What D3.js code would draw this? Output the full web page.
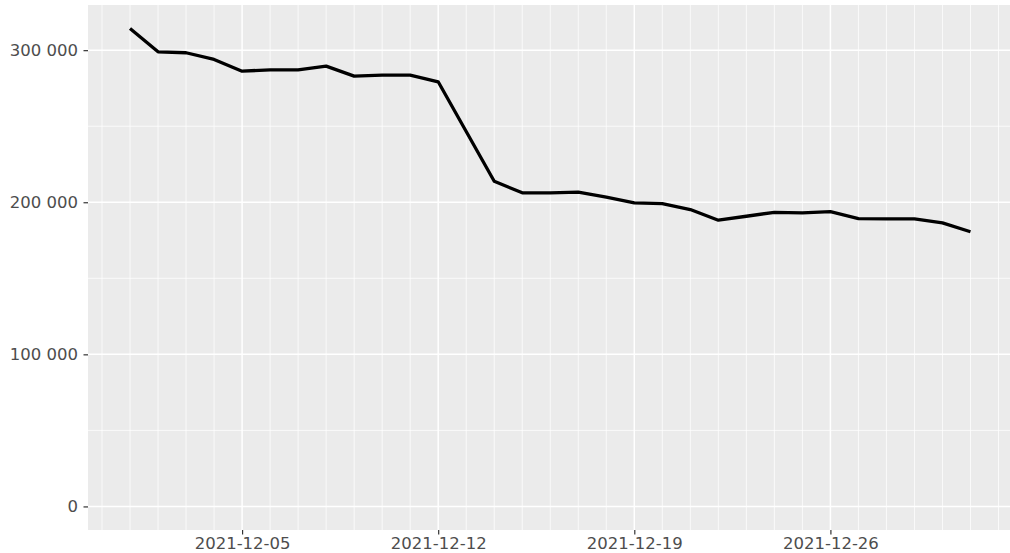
<!DOCTYPE html>
<html>
<head>
<meta charset="utf-8">
<script src="https://cdn.jsdelivr.net/npm/d3@7"></script>
<style>
  html, body { margin: 0; padding: 0; background: #fff; }
  svg { display: block; }
</style>
</head>
<body>
<svg id="chart" width="1010" height="553"></svg>
<script>
const dates = ["2021-12-01","2021-12-02","2021-12-03","2021-12-04","2021-12-05","2021-12-06","2021-12-07",
  "2021-12-08","2021-12-09","2021-12-10","2021-12-11","2021-12-12","2021-12-13","2021-12-14",
  "2021-12-15","2021-12-16","2021-12-17","2021-12-18","2021-12-19","2021-12-20","2021-12-21",
  "2021-12-22","2021-12-23","2021-12-24","2021-12-25","2021-12-26","2021-12-27","2021-12-28",
  "2021-12-29","2021-12-30","2021-12-31"];
const values = [314200, 298900, 298300, 293900, 286200, 287100, 287100,
  289500, 282900, 283600, 283600, 279200, 246500, 213800,
  206200, 206200, 206600, 203300, 199600, 199100, 195200,
  188200, 190800, 193400, 193000, 193900, 189300, 189100,
  189100, 186400, 180600];
const xTickLabels = ["2021-12-05", "2021-12-12", "2021-12-19", "2021-12-26"];
const yTicks = [0, 100000, 200000, 300000];
const yMinor = [50000, 150000, 250000];

(function () {
const parse = d3.utcParse("%Y-%m-%d");
const data = dates.map((d, i) => ({ date: parse(d), value: values[i] }));

const svg = d3.select("#chart");
const pL = 88, pR = 1012.5, pT = 5, pB = 530;

const x0 = data[0].date, x1 = data[data.length - 1].date;
const span = x1 - x0;
const x = d3.scaleUtc()
  .domain([new Date(+x0 - span * 0.05), new Date(+x1 + span * 0.05)])
  .range([pL, pR]);

const y = d3.scaleLinear().domain([-15500, 329700]).range([pB, pT]);

svg.append("rect").attr("x", pL).attr("y", pT)
  .attr("width", pR - pL).attr("height", pB - pT).attr("fill", "#EBEBEB");

const g = svg.append("g");
const days = d3.utcDay.range(d3.utcDay.offset(x0, -1), d3.utcDay.offset(x1, 2));
const majorDates = xTickLabels.map(parse);
const isMajor = d => majorDates.some(m => +m === +d);
g.selectAll(".vminor").data(days.filter(d => !isMajor(d) && x(d) >= pL && x(d) <= pR))
  .join("line").attr("x1", d => x(d)).attr("x2", d => x(d))
  .attr("y1", pT).attr("y2", pB).attr("stroke", "#fff").attr("stroke-width", 0.75);
g.selectAll(".hminor").data(yMinor).join("line")
  .attr("x1", pL).attr("x2", pR).attr("y1", d => y(d)).attr("y2", d => y(d))
  .attr("stroke", "#fff").attr("stroke-width", 0.75);
g.selectAll(".vmajor").data(majorDates).join("line")
  .attr("x1", d => x(d)).attr("x2", d => x(d)).attr("y1", pT).attr("y2", pB)
  .attr("stroke", "#fff").attr("stroke-width", 1.5);
g.selectAll(".hmajor").data(yTicks).join("line")
  .attr("x1", pL).attr("x2", pR).attr("y1", d => y(d)).attr("y2", d => y(d))
  .attr("stroke", "#fff").attr("stroke-width", 1.5);

svg.append("path").datum(data)
  .attr("fill", "none").attr("stroke", "#000").attr("stroke-width", 3.3)
  .attr("stroke-linejoin", "round")
  .attr("d", d3.line().x(d => x(d.date)).y(d => y(d.value)));

const fmt = d => d3.format(",")(d).replace(/,/g, " ");
const yAxis = d3.axisLeft(y).tickValues(yTicks).tickFormat(fmt).tickSize(4.5).tickPadding(5.5);
const ya = svg.append("g").attr("transform", `translate(${pL},0)`).call(yAxis);
const xAxis = d3.axisBottom(x).tickValues(majorDates).tickFormat(d3.utcFormat("%Y-%m-%d")).tickSize(4.5).tickPadding(2.5);
const xa = svg.append("g").attr("transform", `translate(0,${pB})`).call(xAxis);
[ya, xa].forEach(a => {
  a.select(".domain").remove();
  a.selectAll(".tick line").attr("stroke", "#333").attr("stroke-width", 1.2);
  a.selectAll(".tick text").attr("fill", "#4D4D4D")
    .style("font-family", "'DejaVu Sans', sans-serif").style("font-size", "16.5px");
});
})();
</script>
</body>
</html>
